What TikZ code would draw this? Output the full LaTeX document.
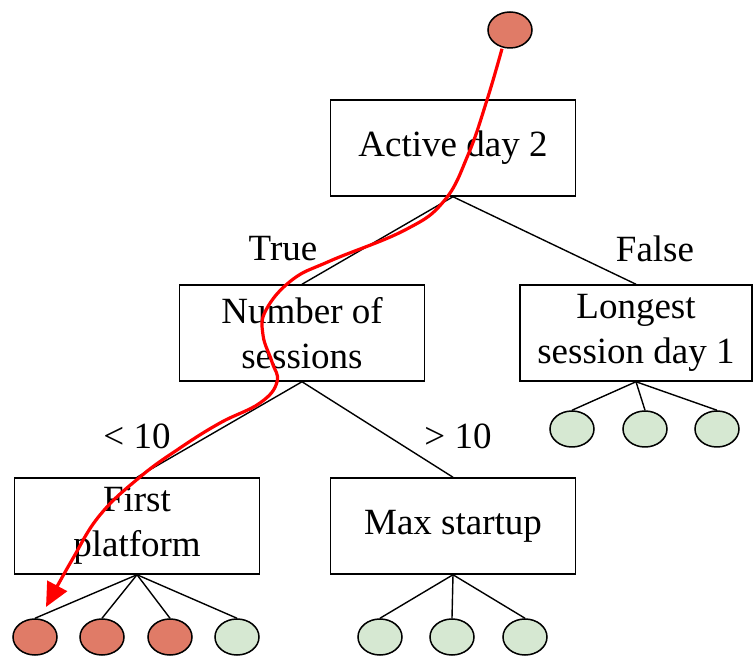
\documentclass[tikz,border=0pt]{standalone}
\usepackage{fontspec}
\setmainfont{Liberation Serif}
\usepackage{xcolor}
\usepackage{tikz}
\usetikzlibrary{shapes.geometric, arrows.meta}

\definecolor{hitred}{HTML}{E07B67}
\definecolor{leafgreen}{HTML}{D6E8D2}

\begin{document}
\begin{tikzpicture}[
  x=0.5pt, y=-0.5pt,
  split/.style={draw, line width=0.75pt, minimum width=#1, minimum height=48pt, align=center, inner sep=2pt, font=\fontsize{18.5}{22.5}\selectfont},
  split/.default=122.5pt,
  leaf/.style={draw, ellipse, line width=0.75pt, minimum width=22pt, minimum height=18pt, inner sep=0pt, fill=#1},
  edge/.style={line width=0.7pt},
  lbl/.style={font=\fontsize{18.5}{22.5}\selectfont},
  path/.style={-{Triangle[length=12pt, width=11pt]}, red, line width=1.6pt}
]
  \useasboundingbox (0,0) rectangle (756,657);

  % ===== ROOT =====
  \node[leaf=hitred] (root) at (510,30) {};
  \node[split] (act) at (453,148) {Active day 2};

  % second level
  \node[split] (num) at (302,333) {Number of\\sessions};
  \node[split=116pt] (lon) at (636,333) {Longest\\session day 1};

  \draw[edge] (act.south) -- (num.north);
  \draw[edge] (act.south) -- (lon.north);
  \node[lbl] at (283,249) {True};
  \node[lbl] at (655,249) {False};

  % third level
  \node[split] (fst) at (137,526) {First\\platform};
  \node[split] (max) at (453,526) {Max startup};

  \draw[edge] (num.south) -- (fst.north);
  \draw[edge] (num.south) -- (max.north);
  \node[lbl] at (137,436) {< 10};
  \node[lbl] at (458,436) {> 10};

  % ===== LEAVES =====
  \node[leaf=hitred] (f1) at (35,637) {};
  \node[leaf=hitred] (f2) at (102,637) {};
  \node[leaf=hitred] (f3) at (170,637) {};
  \node[leaf=leafgreen] (f4) at (237,637) {};

  \node[leaf=leafgreen] (m1) at (380,637) {};
  \node[leaf=leafgreen] (m2) at (452,637) {};
  \node[leaf=leafgreen] (m3) at (525,637) {};

  \node[leaf=leafgreen] (l1) at (572,429) {};
  \node[leaf=leafgreen] (l2) at (645,429) {};
  \node[leaf=leafgreen] (l3) at (717,429) {};

  \foreach \n in {f1,f2,f3,f4} \draw[edge] (fst.south) -- (\n.north);
  \foreach \n in {m1,m2,m3} \draw[edge] (max.south) -- (\n.north);
  \foreach \n in {l1,l2,l3} \draw[edge] (lon.south) -- (\n.north);

  % ===== DECISION PATH =====
  \coordinate (start) at ([xshift=-4pt]root.south);
  \coordinate (tip) at (46,607);
  \draw[path] plot[smooth, tension=0.7] coordinates {
    (start) (487,100) (468,155) (444,201) (405,230) (330,261)
    (292,280) (266,310) (263,335) (272,362) (277,382) (260,403)
    (220,423) (180,448) (140,477) (100,515) (72,560) (tip)};
\end{tikzpicture}
\end{document}
